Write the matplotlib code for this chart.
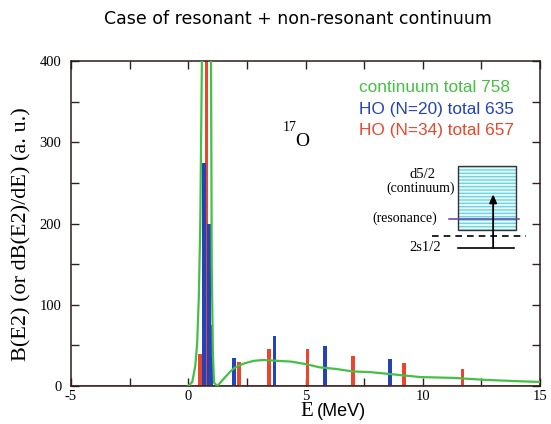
import matplotlib
matplotlib.use("Agg")
import matplotlib.pyplot as plt
from matplotlib.patches import Rectangle
from matplotlib.ticker import MultipleLocator

plt.rcParams["axes.unicode_minus"] = False
plt.rcParams["hatch.linewidth"] = 1.4

# Continuum response (resonant + non-resonant), energy in MeV
cont_E = [0.0, 0.17, 0.3, 0.38, 0.45, 0.51, 0.58, 0.7, 0.8, 0.9, 0.97, 1.0,
          1.05, 1.1, 1.24, 1.45, 1.8, 2.0, 2.4, 2.8, 3.2, 3.8, 4.4, 5.0, 5.6,
          6.3, 7.0, 7.8, 8.5, 9.2, 9.9, 11.3, 12.7, 14.0, 15.0]
cont_B = [0, 5, 25, 53, 110, 196, 400, 900, 1100, 800, 400, 150,
          40, 4, 0, 7, 18, 23, 28, 31, 32, 31, 30, 27, 23,
          21, 18, 17, 15, 13, 11, 10, 7.5, 6, 5]

# Harmonic-oscillator basis, N = 20
ho20_E = [0.67, 0.89, 0.99, 1.96, 3.67, 5.84, 8.6]
ho20_B = [274, 200, 75, 34, 62, 49, 33]

# Harmonic-oscillator basis, N = 34
ho34_E = [0.49, 0.78, 2.17, 3.45, 5.08, 7.03, 9.2, 11.7]
ho34_B = [40, 411, 30, 45, 45, 37, 28, 21]

legend_lines = ["continuum total 758", "HO (N=20) total 635", "HO (N=34) total 657"]

GREEN = "#45c045"
BLUE = "#2443b4"
RED = "#e8472e"

serif = "Liberation Serif"
sans = "Liberation Sans"

fig = plt.figure(figsize=(5.51, 4.24), dpi=100)
ax = fig.add_axes([0.1289, 0.0896, 0.8512, 0.7665])

ax.bar(ho34_E, ho34_B, width=0.15, color=RED, zorder=2)
ax.bar(ho20_E, ho20_B, width=0.15, color=BLUE, zorder=2.2)
ax.axhline(0, color=RED, lw=1.2, zorder=2.5)
ax.plot(cont_E, cont_B, color=GREEN, lw=1.6, zorder=3)

ax.set_xlim(-5, 15)
ax.set_ylim(0, 400)
ax.xaxis.set_major_locator(MultipleLocator(5))
ax.xaxis.set_minor_locator(MultipleLocator(2.5))
ax.yaxis.set_major_locator(MultipleLocator(100))
ax.yaxis.set_minor_locator(MultipleLocator(50))
ax.tick_params(which="both", direction="in", top=True, right=True,
               length=6, width=1, color="#302020")
ax.tick_params(axis="x", labelsize=10.5, pad=3)
ax.tick_params(axis="y", labelsize=10.5, pad=7)
for lab in ax.get_xticklabels() + ax.get_yticklabels():
    lab.set_fontfamily(serif)
for s in ax.spines.values():
    s.set_color("#2a1c1c")
    s.set_linewidth(1.1)

# axis labels
ax.set_ylabel("B(E2) (or dB(E2)/dE) (a. u.)", fontfamily=serif, fontsize=16)
ax.yaxis.set_label_coords(-0.085, 0.468)
ax.text(0.488, -0.078, "E", transform=ax.transAxes, fontfamily=serif,
        fontsize=15, ha="left", va="center")
ax.text(0.525, -0.078, "(MeV)", transform=ax.transAxes, fontfamily=sans,
        fontsize=13, ha="left", va="center")

# colored totals
for i, (txt, c) in enumerate(zip(legend_lines, [GREEN, BLUE, RED])):
    ax.text(0.614, 0.917 - i * 0.066, txt, transform=ax.transAxes,
            color=c, fontfamily=sans, fontsize=12.4, ha="left", va="center")

# nucleus label
ax.text(0.452, 0.795, "17", transform=ax.transAxes,
        fontfamily=serif, fontsize=10, ha="left", va="center")
ax.text(0.479, 0.752, "O", transform=ax.transAxes,
        fontfamily=serif, fontsize=14, ha="left", va="center")

# level scheme
ax.add_patch(Rectangle((11.51, 192), 2.45, 79, facecolor="#6fd3e0",
                       edgecolor="#e6fbfd", hatch="-----", lw=0, zorder=4))
ax.add_patch(Rectangle((11.51, 192), 2.45, 79, fill=False,
                       edgecolor="#333333", lw=1.0, zorder=5))
ax.plot([11.1, 14.1], [205.5, 205.5], color="#5a3fa0", lw=1.1, zorder=5)
ax.plot([10.4, 14.4], [185, 185], color="black", lw=1.2, ls=(0, (4, 3)), zorder=5)
ax.plot([11.5, 13.9], [170, 170], color="black", lw=1.2, zorder=5)
ax.annotate("", xy=(13.0, 236), xytext=(13.0, 170),
            arrowprops=dict(arrowstyle="-|>,head_length=0.5,head_width=0.22",
                            color="black", lw=1.3, shrinkA=0, shrinkB=0),
            zorder=6)
ax.text(9.98, 260, "d5/2", fontfamily=serif, fontsize=10.5, ha="center", va="center")
ax.text(9.9, 244, "(continuum)", fontfamily=serif, fontsize=10, ha="center", va="center")
ax.text(10.62, 206, "(resonance)", fontfamily=serif, fontsize=10, ha="right", va="center")
ax.text(10.1, 170, "2s1/2", fontfamily=serif, fontsize=10.5, ha="center", va="center")

fig.text(0.54, 0.955, "Case of resonant + non-resonant continuum",
         fontfamily="DejaVu Sans", fontsize=12.5, ha="center", va="center")

fig.savefig("out.png", dpi=100)
